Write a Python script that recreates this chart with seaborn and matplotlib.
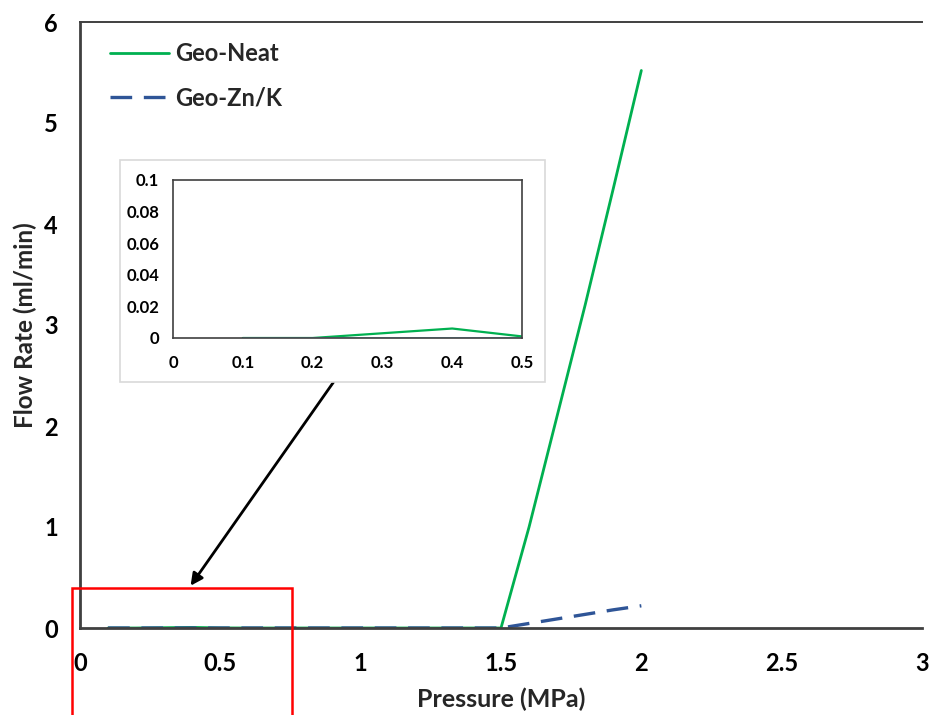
import matplotlib
matplotlib.use("Agg")
import matplotlib.pyplot as plt
import seaborn as sns
import pandas as pd
from matplotlib.patches import Rectangle, FancyArrowPatch

sns.set_theme(style="white")
plt.rcParams['font.family'] = ['Lato', 'DejaVu Sans']
plt.rcParams['font.weight'] = 'bold'

pressure = [0.1, 0.2, 0.3, 0.4, 0.5, 0.6, 0.7, 0.8, 0.9, 1.0, 1.1, 1.2, 1.3, 1.4, 1.5,
            1.6, 1.7, 1.8, 1.9, 2.0]
geo_neat = [0, 0, 0.003, 0.006, 0.001, 0, 0, 0, 0, 0, 0, 0, 0, 0, 0,
            1.0, 2.1, 3.2, 4.35, 5.52]
geo_znk = [0, 0, 0, 0, 0, 0, 0, 0, 0, 0, 0, 0, 0, 0, 0,
           0.045, 0.09, 0.135, 0.18, 0.22]

main_xticks = [0, 0.5, 1, 1.5, 2, 2.5, 3]
main_xticklabels = ['0', '0.5', '1', '1.5', '2', '2.5', '3']
main_yticks = [0, 1, 2, 3, 4, 5, 6]
inset_xticks = [0, 0.1, 0.2, 0.3, 0.4, 0.5]
inset_xticklabels = ['0', '0.1', '0.2', '0.3', '0.4', '0.5']
inset_yticks = [0, 0.02, 0.04, 0.06, 0.08, 0.1]
inset_yticklabels = ['0', '0.02', '0.04', '0.06', '0.08', '0.1']

df = pd.DataFrame({'Pressure': pressure, 'Geo-Neat': geo_neat, 'Geo-Zn/K': geo_znk})

W, H = 931, 715
fig = plt.figure(figsize=(W / 100, H / 100), dpi=100)

def fx(px):
    return px / W

def fy(py):
    return 1 - py / H

green = '#00B050'
blue = '#2F5597'

ax = fig.add_axes([fx(80), fy(628), fx(922) - fx(80), fy(22) - fy(628)])
sns.lineplot(data=df, x='Pressure', y='Geo-Neat', ax=ax, color=green, lw=2.0,
             label='Geo-Neat', sort=False)
sns.lineplot(data=df, x='Pressure', y='Geo-Zn/K', ax=ax, color=blue, lw=2.4,
             label='Geo-Zn/K', sort=False)
ax.lines[1].set_dashes([6.5, 3.5])
ax.set_xlim(0, 3)
ax.set_ylim(0, 6)
ax.set_xticks(main_xticks)
ax.set_xticklabels(main_xticklabels)
ax.set_yticks(main_yticks)
ax.tick_params(axis='both', length=0, labelsize=17, colors='black')
ax.tick_params(axis='x', pad=17)
ax.tick_params(axis='y', pad=16)
for lab in ax.get_xticklabels() + ax.get_yticklabels():
    lab.set_fontweight('bold')
ax.set_xlabel('Pressure (MPa)', fontsize=18, fontweight='bold', labelpad=9)
ax.set_ylabel('Flow Rate (ml/min)', fontsize=17.5, fontweight='bold', labelpad=5)
ax.grid(False)
for s in ['left', 'bottom']:
    ax.spines[s].set_color('#404040')
    ax.spines[s].set_linewidth(2.0)
ax.spines['top'].set_color('#404040')
ax.spines['top'].set_linewidth(1.4)
ax.spines['right'].set_visible(False)
leg = ax.legend(loc='upper left', frameon=False, fontsize=17, handlelength=2.5,
                handletextpad=0.25, labelspacing=0.9, borderpad=0, borderaxespad=0,
                bbox_to_anchor=(fx(110), fy(42)), bbox_transform=fig.transFigure)
for t in leg.get_texts():
    t.set_fontweight('bold')

# Red box and arrow (figure coordinates)
fig.patches.append(Rectangle((fx(72), fy(760)), fx(292) - fx(72), fy(588) - fy(760),
                             transform=fig.transFigure, fill=False, edgecolor='#FF0000',
                             lw=1.8, clip_on=False))
fig.patches.append(FancyArrowPatch((fx(335), fy(380)), (fx(189), fy(588)),
                                   transform=fig.transFigure, arrowstyle='-|>',
                                   mutation_scale=18, color='black', lw=2.0))

# Inset frame
fig.patches.append(Rectangle((fx(120), fy(382)), fx(545) - fx(120), fy(160) - fy(382),
                             transform=fig.transFigure, facecolor='white',
                             edgecolor='#D9D9D9', lw=1.2, zorder=5))

axi = fig.add_axes([fx(173), fy(338), fx(522) - fx(173), fy(180) - fy(338)], zorder=10)
sns.lineplot(data=df, x='Pressure', y='Geo-Neat', ax=axi, color=green, lw=1.6,
             sort=False, legend=False)
sns.lineplot(data=df, x='Pressure', y='Geo-Zn/K', ax=axi, color='#5BC8F0', lw=1.8,
             sort=False, legend=False)
axi.set_xlim(0, 0.5)
axi.set_ylim(0, 0.1)
axi.set_xticks(inset_xticks)
axi.set_xticklabels(inset_xticklabels)
axi.set_yticks(inset_yticks)
axi.set_yticklabels(inset_yticklabels)
axi.tick_params(axis='both', length=0, labelsize=12, colors='black')
axi.tick_params(axis='x', pad=12)
axi.tick_params(axis='y', pad=10)
for lab in axi.get_xticklabels() + axi.get_yticklabels():
    lab.set_fontweight('bold')
axi.set_xlabel('')
axi.set_ylabel('')
axi.grid(False)
for s in axi.spines.values():
    s.set_color('#404040')
    s.set_linewidth(1.2)

fig.savefig('out.png', dpi=100)
